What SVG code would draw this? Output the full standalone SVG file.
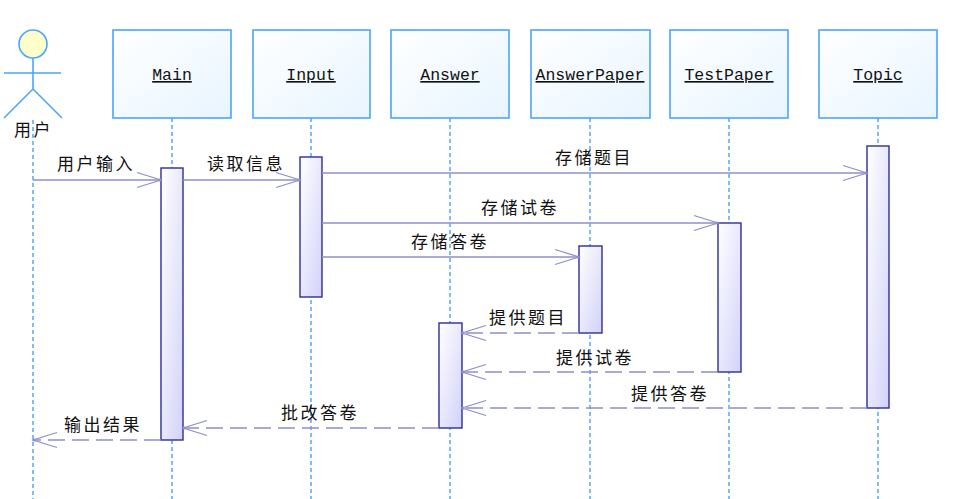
<svg xmlns="http://www.w3.org/2000/svg" width="970" height="499" viewBox="0 0 970 499">
<style>
.box{fill:url(#gBox);stroke:#4aa5ff;stroke-width:1.6}
.name{font-family:"Liberation Mono",monospace;font-size:16.5px;fill:#111;text-decoration:underline;text-anchor:middle}
.life{stroke:#2b8cff;stroke-width:1.2;stroke-dasharray:4 3;fill:none}
.act{fill:url(#gAct);stroke:#2e2e96;stroke-width:1.4}
.msg{stroke:#8f8fcc;stroke-width:1.3;fill:none;marker-end:url(#arr)}
.ret{stroke:#8f8fcc;stroke-width:1.3;fill:none;stroke-dasharray:17 7;marker-end:url(#arr)}
.lbl{font-family:"Noto Sans CJK SC","Noto Sans",sans-serif;font-size:17px;letter-spacing:2.5px;fill:#111}
.actor{stroke:#4aa5ff;stroke-width:1.6;fill:none}
</style>
<defs>
<linearGradient id="gBox" x1="0" y1="0" x2="1" y2="1">
<stop offset="0" stop-color="#ffffff"/>
<stop offset="1" stop-color="#e8f5ff"/>
</linearGradient>
<linearGradient id="gAct" x1="0" y1="0" x2="1" y2="1">
<stop offset="0" stop-color="#ffffff"/>
<stop offset="1" stop-color="#d2d2fa"/>
</linearGradient>
<marker id="arr" viewBox="-26 -10 28 20" refX="0" refY="0" markerWidth="28" markerHeight="20" markerUnits="userSpaceOnUse" orient="auto">
<path d="M-24,-7.5 L0,0 L-24,7.5" fill="none" stroke="#8f8fcc" stroke-width="1.3"/>
<circle cx="-1" cy="0" r="1.6" fill="#8f8fcc"/>
</marker>
</defs>
<rect width="970" height="499" fill="#ffffff"/>

<g id="lifelines">
<line class="life" x1="33" y1="120" x2="33" y2="499"/>
<line class="life" x1="172" y1="118" x2="172" y2="499"/>
<line class="life" x1="311" y1="118" x2="311" y2="499"/>
<line class="life" x1="450" y1="118" x2="450" y2="499"/>
<line class="life" x1="590" y1="118" x2="590" y2="499"/>
<line class="life" x1="729" y1="118" x2="729" y2="499"/>
<line class="life" x1="878" y1="118" x2="878" y2="499"/>
</g>

<g id="user">
<circle cx="33" cy="44" r="14" fill="#ffffcc" stroke="#4aa5ff" stroke-width="1.6"/>
<line class="actor" x1="33" y1="58" x2="33" y2="89"/>
<line class="actor" x1="4" y1="73" x2="61" y2="73"/>
<line class="actor" x1="33" y1="89" x2="4" y2="118"/>
<line class="actor" x1="33" y1="89" x2="62" y2="118"/>
<text class="lbl" x="14" y="136" letter-spacing="1">用户</text>
</g>

<g id="Main">
<rect class="box" x="113" y="30" width="118" height="88"/>
<text class="name" x="172" y="80">Main</text>
<rect class="act" x="161" y="168" width="22" height="272"/>
</g>
<g id="Input">
<rect class="box" x="253" y="30" width="117" height="88"/>
<text class="name" x="311" y="80">Input</text>
<rect class="act" x="300" y="157" width="22" height="140"/>
</g>
<g id="Answer">
<rect class="box" x="391" y="30" width="118" height="88"/>
<text class="name" x="450" y="80">Answer</text>
<rect class="act" x="439" y="323" width="23" height="105"/>
</g>
<g id="AnswerPaper">
<rect class="box" x="531" y="30" width="119" height="88"/>
<text class="name" x="590" y="80">AnswerPaper</text>
<rect class="act" x="579" y="246" width="23" height="87"/>
</g>
<g id="TestPaper">
<rect class="box" x="670" y="30" width="118" height="88"/>
<text class="name" x="729" y="80">TestPaper</text>
<rect class="act" x="718" y="223" width="23" height="149"/>
</g>
<g id="Topic">
<rect class="box" x="819" y="30" width="118" height="88"/>
<text class="name" x="878" y="80">Topic</text>
<rect class="act" x="867" y="146" width="22" height="262"/>
</g>

<g id="connectors">
<line class="msg" x1="33" y1="180" x2="161" y2="180"/>
<line class="msg" x1="183" y1="180" x2="300" y2="180"/>
<line class="msg" x1="322" y1="173" x2="867" y2="173"/>
<line class="msg" x1="322" y1="223" x2="718" y2="223"/>
<line class="msg" x1="322" y1="257" x2="579" y2="257"/>
<line class="ret" x1="579" y1="333" x2="462" y2="333"/>
<line class="ret" x1="718" y1="372" x2="462" y2="372"/>
<line class="ret" x1="867" y1="408" x2="462" y2="408"/>
<line class="ret" x1="439" y1="428" x2="183" y2="428"/>
<line class="ret" x1="161" y1="440" x2="33" y2="440"/>
</g>

<g id="labels">
<text class="lbl" x="57" y="170">用户输入</text>
<text class="lbl" x="207" y="170">读取信息</text>
<text class="lbl" x="555" y="164">存储题目</text>
<text class="lbl" x="481" y="214">存储试卷</text>
<text class="lbl" x="411" y="248">存储答卷</text>
<text class="lbl" x="489" y="324">提供题目</text>
<text class="lbl" x="556" y="364">提供试卷</text>
<text class="lbl" x="631" y="400">提供答卷</text>
<text class="lbl" x="281" y="419">批改答卷</text>
<text class="lbl" x="64" y="431">输出结果</text>
</g>
</svg>
